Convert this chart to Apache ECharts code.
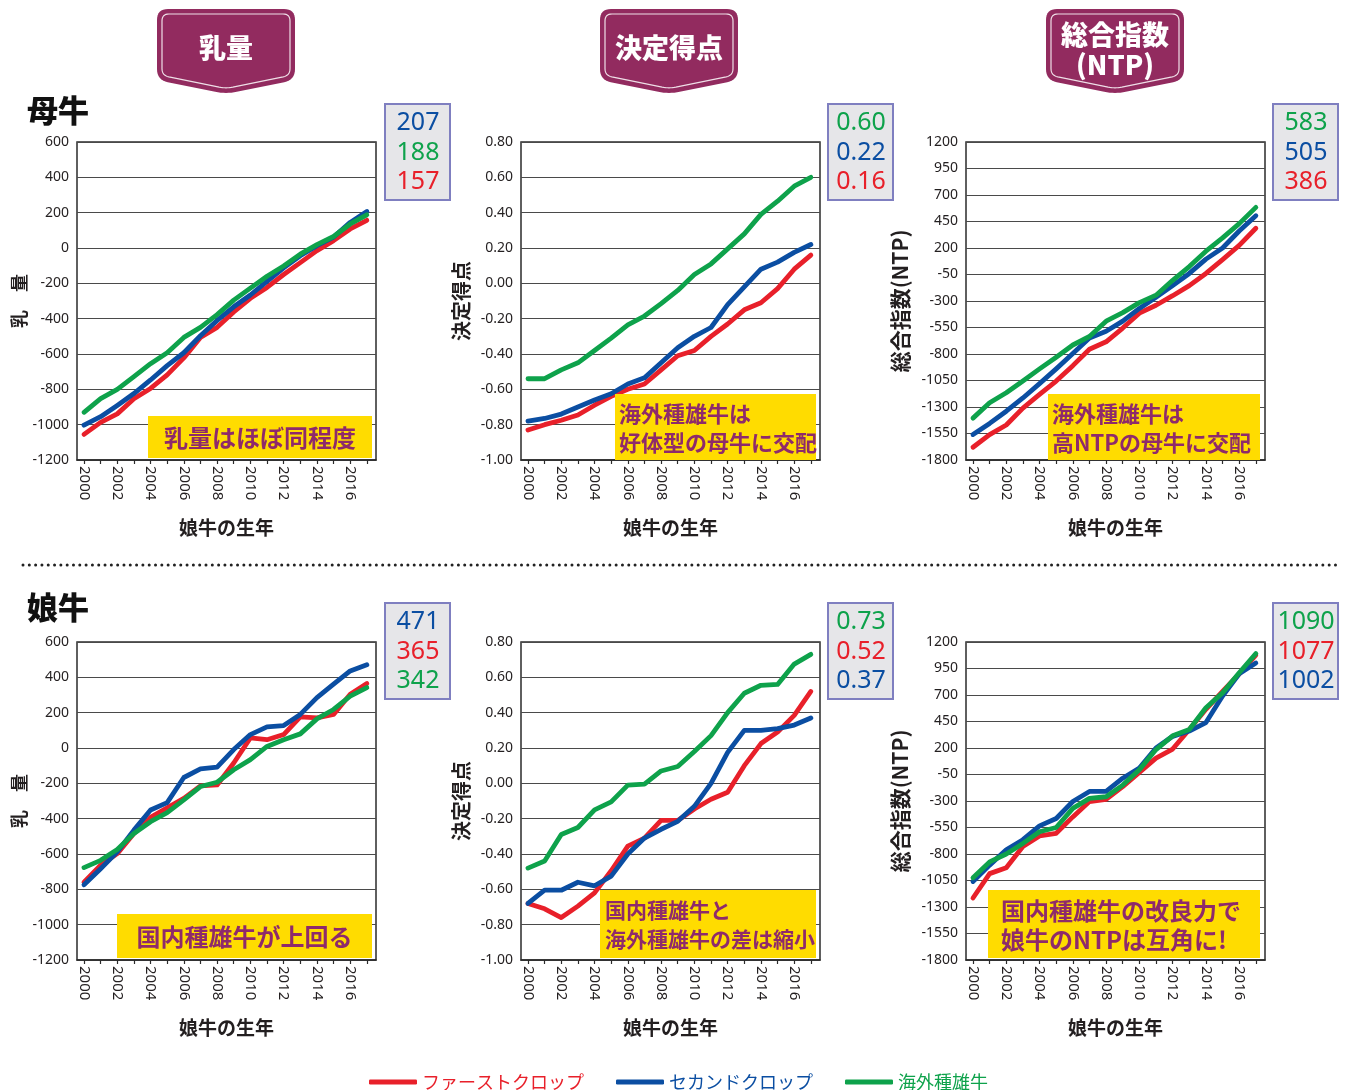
<!DOCTYPE html>
<html>
<head>
<meta charset="utf-8">
<title>乳量・決定得点・総合指数(NTP)の推移</title>
<script src="https://cdn.jsdelivr.net/npm/echarts@6/dist/echarts.min.js"></script>
<style>
  html, body { margin: 0; padding: 0; background: #ffffff; }
  #chart { width: 1349px; height: 1090px; }
</style>
</head>
<body>
<div id="chart"></div>
<script>
// ---- data ----------------------------------------------------------------
const years = [2000, 2001, 2002, 2003, 2004, 2005, 2006, 2007, 2008, 2009,
               2010, 2011, 2012, 2013, 2014, 2015, 2016, 2017];
const yearLabels = [2000, 2002, 2004, 2006, 2008, 2010, 2012, 2014, 2016];

const seriesNames = ['ファーストクロップ', 'セカンドクロップ', '海外種雄牛'];

// 母牛
const damMilkFirst  = [-1055, -987, -939, -853, -795, -718, -622, -506, -449, -362, -285, -223, -150, -83, -15, 42, 108, 157];
const damMilkSecond = [-1003, -955, -891, -824, -747, -666, -593, -497, -410, -333, -266, -189, -112, -44, 13, 62, 145, 207];
const damMilkImport = [-930, -853, -800, -728, -655, -593, -506, -449, -377, -295, -227, -160, -102, -35, 19, 65, 136, 188];

const damTypeFirst  = [-0.83, -0.80, -0.775, -0.745, -0.69, -0.64, -0.60, -0.57, -0.49, -0.41, -0.38, -0.30, -0.23, -0.15, -0.11, -0.03, 0.08, 0.16];
const damTypeSecond = [-0.78, -0.765, -0.74, -0.70, -0.66, -0.625, -0.57, -0.535, -0.45, -0.365, -0.30, -0.25, -0.12, -0.02, 0.08, 0.12, 0.175, 0.22];
const damTypeImport = [-0.54, -0.54, -0.49, -0.45, -0.38, -0.31, -0.235, -0.185, -0.115, -0.04, 0.05, 0.11, 0.195, 0.28, 0.39, 0.465, 0.55, 0.60];

const damNtpFirst  = [-1680, -1560, -1470, -1310, -1180, -1055, -910, -755, -685, -555, -415, -340, -250, -155, -40, 90, 225, 386];
const damNtpSecond = [-1560, -1455, -1340, -1215, -1080, -940, -795, -650, -585, -490, -370, -265, -155, -40, 95, 200, 360, 505];
const damNtpImport = [-1405, -1260, -1165, -1055, -940, -830, -715, -635, -490, -410, -315, -245, -105, 25, 170, 295, 430, 583];

// 娘牛
const dauMilkFirst  = [-759, -664, -598, -484, -393, -338, -285, -214, -209, -85, 57, 47, 76, 176, 171, 190, 304, 365];
const dauMilkSecond = [-774, -683, -588, -465, -351, -309, -167, -118, -108, -9, 76, 120, 127, 190, 285, 361, 436, 471];
const dauMilkImport = [-677, -636, -575, -484, -417, -366, -294, -218, -194, -123, -66, 9, 47, 80, 165, 218, 294, 342];

const dauTypeFirst  = [-0.68, -0.71, -0.76, -0.695, -0.62, -0.495, -0.355, -0.31, -0.21, -0.21, -0.145, -0.09, -0.05, 0.10, 0.225, 0.29, 0.385, 0.52];
const dauTypeSecond = [-0.68, -0.605, -0.605, -0.56, -0.58, -0.525, -0.40, -0.31, -0.26, -0.215, -0.13, 0.00, 0.175, 0.30, 0.30, 0.31, 0.33, 0.37];
const dauTypeImport = [-0.48, -0.44, -0.29, -0.25, -0.15, -0.105, -0.01, -0.005, 0.07, 0.095, 0.18, 0.27, 0.40, 0.51, 0.555, 0.56, 0.675, 0.73];

const dauNtpFirst  = [-1215, -985, -930, -730, -630, -605, -450, -305, -285, -165, -30, 105, 190, 375, 565, 735, 900, 1077];
const dauNtpSecond = [-1060, -905, -760, -665, -535, -465, -305, -210, -210, -85, 10, 200, 310, 360, 440, 690, 900, 1002];
const dauNtpImport = [-1025, -875, -800, -700, -590, -550, -370, -275, -260, -150, -5, 185, 315, 375, 580, 720, 910, 1090];

// y-axis tick labels
const milkTicks = [-1200, -1000, -800, -600, -400, -200, 0, 200, 400, 600];
const typeTicks = [-1.0, -0.8, -0.6, -0.4, -0.2, 0.0, 0.2, 0.4, 0.6, 0.8];
const ntpTicks  = [-1800, -1550, -1300, -1050, -800, -550, -300, -50, 200, 450, 700, 950, 1200];

// ---- styling & layout ----------------------------------------------------
const COLORS = ['#e8202a', '#0b4ea2', '#0ea24b'];
const INK = '#231f20';
const NOTE_BG = '#ffdc00';
const NOTE_INK = '#8e2a6b';
const HEAD_BG = '#922b5f';
const JP = '"Noto Sans CJK JP", "Noto Sans", sans-serif';
const NUM = '"Noto Sans", "Open Sans", sans-serif';

const colLeft = [77, 521, 966];
const rowTop = [142, 642];
const plotW = 299, plotH = 318;

const panels = [
  { row: 0, col: 0, data: [damMilkFirst, damMilkSecond, damMilkImport], ticks: milkTicks, yName: '乳　量', nameGap: 48, nameSize: 18, dec: 0 },
  { row: 0, col: 1, data: [damTypeFirst, damTypeSecond, damTypeImport], ticks: typeTicks, yName: '決定得点', nameGap: 50, nameSize: 20, dec: 2 },
  { row: 0, col: 2, data: [damNtpFirst, damNtpSecond, damNtpImport], ticks: ntpTicks, yName: '総合指数(NTP)', nameGap: 55, nameSize: 21, dec: 0 },
  { row: 1, col: 0, data: [dauMilkFirst, dauMilkSecond, dauMilkImport], ticks: milkTicks, yName: '乳　量', nameGap: 48, nameSize: 18, dec: 0 },
  { row: 1, col: 1, data: [dauTypeFirst, dauTypeSecond, dauTypeImport], ticks: typeTicks, yName: '決定得点', nameGap: 50, nameSize: 20, dec: 2 },
  { row: 1, col: 2, data: [dauNtpFirst, dauNtpSecond, dauNtpImport], ticks: ntpTicks, yName: '総合指数(NTP)', nameGap: 55, nameSize: 21, dec: 0 }
];

function fmt(v, dec) {
  const n = Math.abs(v) < 1e-9 ? 0 : Number(v);
  return dec ? n.toFixed(dec) : String(Math.round(n));
}

const grid = [], xAxis = [], yAxis = [], series = [], graphic = [];

panels.forEach((p, i) => {
  grid.push({
    left: colLeft[p.col], top: rowTop[p.row], width: plotW, height: plotH,
    show: true, borderColor: '#2b2b2b', borderWidth: 1.5, backgroundColor: '#ffffff'
  });
  xAxis.push({
    type: 'value', gridIndex: i,
    min: years[0] - 0.42, max: years[years.length - 1] + 0.55,
    name: '娘牛の生年', nameLocation: 'middle', nameGap: 58,
    nameTextStyle: { fontFamily: JP, fontSize: 19, fontWeight: 'bold', color: INK },
    axisLine: { show: true, onZero: false, lineStyle: { color: '#2b2b2b', width: 1.5 } },
    axisTick: { show: true, inside: false, length: 4, customValues: years, lineStyle: { color: '#2b2b2b', width: 1.2 } },
    axisLabel: { customValues: yearLabels, rotate: -90, margin: 6, fontFamily: NUM, fontSize: 15, color: INK,
      formatter: v => String(Math.round(v)) },
    splitLine: { show: false }
  });
  const t = p.ticks;
  yAxis.push({
    type: 'value', gridIndex: i,
    min: t[0], max: t[t.length - 1], interval: t[1] - t[0],
    name: p.yName, nameLocation: 'middle', nameGap: p.nameGap, nameRotate: 90,
    nameTextStyle: { fontFamily: JP, fontSize: p.nameSize, fontWeight: 'bold', color: INK },
    axisLine: { show: false }, axisTick: { show: false },
    axisLabel: { margin: 8, fontFamily: NUM, fontSize: 14, color: INK,
      formatter: v => fmt(v, p.dec) },
    splitLine: { show: true, lineStyle: { color: '#4a4a4a', width: 1 } }
  });
  // draw order: first crop, second crop, imported sires on top
  p.data.forEach((vals, k) => {
    series.push({
      name: seriesNames[k], type: 'line', xAxisIndex: i, yAxisIndex: i,
      data: years.map((y, j) => [y, vals[j]]),
      showSymbol: false, symbol: 'none', smooth: false, silent: true,
      color: COLORS[k],
      lineStyle: { width: 4.8, color: COLORS[k], cap: 'round', join: 'round' },
      z: 3 + k
    });
  });

  // final-year value box, largest value first
  const bx = [385, 828, 1273][p.col];
  const by = [104, 603][p.row];
  graphic.push({ type: 'rect', shape: { x: bx, y: by, width: 65, height: 96 },
    style: { fill: '#e6e6e9', stroke: '#7f7fc0', lineWidth: 2 }, z: 10 });
  const finals = p.data.map((vals, k) => ({ v: vals[vals.length - 1], c: COLORS[k] }))
                       .sort((a, b) => b.v - a.v);
  finals.forEach((f, k) => {
    graphic.push({ type: 'text', x: bx + 33, y: by + 19 + k * 29.5, z: 11,
      style: { text: fmt(f.v, p.dec), fill: f.c,
        font: `25px ${NUM}`, textAlign: 'center', textVerticalAlign: 'middle' } });
  });
});

// ---- header tabs -----------------------------------------------------------
function roundPoly(pts, r, steps) {
  const out = [];
  const n = pts.length;
  for (let i = 0; i < n; i++) {
    const p0 = pts[(i - 1 + n) % n], p1 = pts[i], p2 = pts[(i + 1) % n];
    const d1 = Math.hypot(p0[0] - p1[0], p0[1] - p1[1]);
    const d2 = Math.hypot(p2[0] - p1[0], p2[1] - p1[1]);
    const rr = Math.min(r, d1 / 2, d2 / 2);
    const a = [p1[0] + (p0[0] - p1[0]) * rr / d1, p1[1] + (p0[1] - p1[1]) * rr / d1];
    const b = [p1[0] + (p2[0] - p1[0]) * rr / d2, p1[1] + (p2[1] - p1[1]) * rr / d2];
    for (let k = 0; k <= steps; k++) {
      const s = k / steps, u = 1 - s;
      out.push([u * u * a[0] + 2 * u * s * p1[0] + s * s * b[0],
                u * u * a[1] + 2 * u * s * p1[1] + s * s * b[1]]);
    }
  }
  return out;
}
function tab(x0, lines) {
  const w = 138, cx = x0 + w / 2;
  graphic.push({ type: 'polygon', z: 10,
    shape: { points: roundPoly([[x0, 9], [x0 + w, 9], [x0 + w, 80], [cx, 94], [x0, 80]], 11, 8) },
    style: { fill: HEAD_BG } });
  graphic.push({ type: 'polygon', z: 11,
    shape: { points: roundPoly([[x0 + 5, 14], [x0 + w - 5, 14], [x0 + w - 5, 75.5], [cx, 88.5], [x0 + 5, 75.5]], 7, 8) },
    style: { fill: null, stroke: 'rgba(255,255,255,0.85)', lineWidth: 1.2 } });
  graphic.push({ type: 'text', z: 12, x: cx, y: lines.length > 1 ? 50 : 48,
    style: { text: lines.join('\n'), fill: '#ffffff', font: `900 27px ${JP}`,
      lineHeight: 30, textAlign: 'center', textVerticalAlign: 'middle' } });
}
tab(157, ['乳量']);
tab(600, ['決定得点']);
tab(1046, ['総合指数', '(NTP)']);

// ---- row titles and separator ------------------------------------------
graphic.push({ type: 'text', x: 27, y: 110, z: 10,
  style: { text: '母牛', fill: '#111', font: `900 31px ${JP}`, textVerticalAlign: 'middle' } });
graphic.push({ type: 'text', x: 27, y: 607, z: 10,
  style: { text: '娘牛', fill: '#111', font: `900 31px ${JP}`, textVerticalAlign: 'middle' } });
graphic.push({ type: 'line', z: 10, shape: { x1: 23, y1: 565, x2: 1339, y2: 565 },
  style: { stroke: '#222', lineWidth: 3, lineDash: [0.01, 6.3], lineCap: 'round' } });

// ---- callout notes -----------------------------------------------------
function note(x, y, w, h, text, opt) {
  graphic.push({ type: 'rect', z: 20, shape: { x: x, y: y, width: w, height: h },
    style: { fill: NOTE_BG } });
  graphic.push({ type: 'text', z: 21,
    x: opt.center ? x + w / 2 : x + opt.pad, y: y + h / 2 + 1,
    style: { text: text, fill: NOTE_INK, font: `bold ${opt.size}px ${JP}`,
      lineHeight: opt.lh || opt.size + 6,
      textAlign: opt.center ? 'center' : 'left', textVerticalAlign: 'middle' } });
}
note(148, 416, 224, 42, '乳量はほぼ同程度', { center: true, size: 24 });
note(615, 394, 201, 66, '海外種雄牛は\n好体型の母牛に交配', { pad: 4, size: 22, lh: 29 });
note(1048, 394, 212, 66, '海外種雄牛は\n高NTPの母牛に交配', { pad: 4, size: 22, lh: 29 });
note(117, 914, 255, 44, '国内種雄牛が上回る', { center: true, size: 24 });
note(600, 890, 216, 68, '国内種雄牛と\n海外種雄牛の差は縮小', { pad: 5, size: 21, lh: 29 });
note(988, 890, 272, 68, '国内種雄牛の改良力で\n娘牛のNTPは互角に!', { pad: 13, size: 24, lh: 29 });

// ---- chart -------------------------------------------------------------
const chart = echarts.init(document.getElementById('chart'), null, { renderer: 'canvas' });
chart.setOption({
  animation: false,
  backgroundColor: '#ffffff',
  textStyle: { fontFamily: JP },
  legend: {
    left: 364, top: 1068, itemWidth: 48, itemHeight: 5, itemGap: 32, icon: 'roundRect',
    selectedMode: false,
    textStyle: { fontFamily: JP, fontSize: 18, padding: [0, 0, 0, 0] },
    data: seriesNames.map((n, k) => ({ name: n, textStyle: { color: COLORS[k] } }))
  },
  grid: grid,
  xAxis: xAxis,
  yAxis: yAxis,
  series: series,
  graphic: graphic
});
</script>
</body>
</html>
